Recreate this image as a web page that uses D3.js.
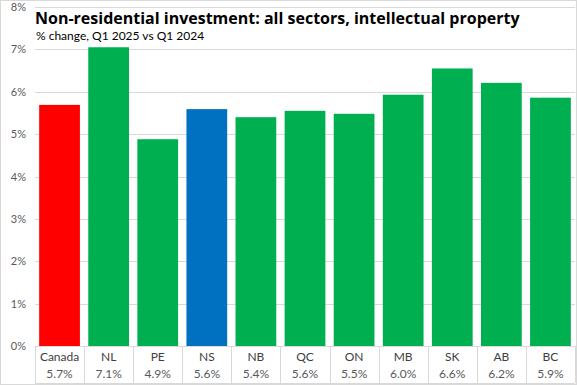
<!DOCTYPE html>
<html>
<head>
<meta charset="utf-8">
<script src="https://cdn.jsdelivr.net/npm/d3@7"></script>
<style>
  body { margin: 0; background: #fff; }
  svg { display: block; font-family: Lato, "Liberation Sans", sans-serif; }
</style>
</head>
<body>
<div id="chart"></div>
<script>
// chart data
const regions = ["Canada", "NL", "PE", "NS", "NB", "QC", "ON", "MB", "SK", "AB", "BC"];
const values = [5.69, 7.05, 4.88, 5.59, 5.40, 5.55, 5.48, 5.93, 6.55, 6.21, 5.86];
const valueLabels = ["5.7%", "7.1%", "4.9%", "5.6%", "5.4%", "5.6%", "5.5%", "6.0%", "6.6%", "6.2%", "5.9%"];
const yTicks = [0, 1, 2, 3, 4, 5, 6, 7, 8];
const barColors = { Canada: "#ff0000", NS: "#0070c0" };

const width = 577, height = 385;
const margin = { top: 7, left: 35, right: 2, bottom: 39 };
const innerWidth = width - margin.left - margin.right;
const innerHeight = height - margin.top - margin.bottom;

const svg = d3.select("#chart")
  .append("svg")
  .attr("width", width)
  .attr("height", height);

// outer border
svg.append("rect")
  .attr("x", 0.5).attr("y", 0.5)
  .attr("width", width - 1).attr("height", height - 1)
  .attr("fill", "none")
  .attr("stroke", "#d9d9d9");

const g = svg.append("g")
  .attr("transform", `translate(${margin.left},${margin.top})`);

const x = d3.scaleBand()
  .domain(regions)
  .range([0, innerWidth])
  .paddingInner(0.17)
  .paddingOuter(0.085);

const xCat = d3.scaleBand()
  .domain(regions)
  .range([0, innerWidth]);

const y = d3.scaleLinear()
  .domain([0, 8])
  .range([innerHeight, 0]);

// gridlines
g.selectAll(".grid")
  .data(yTicks)
  .enter()
  .append("line")
  .attr("x1", 0).attr("x2", innerWidth)
  .attr("y1", d => Math.round(y(d)) + 0.5)
  .attr("y2", d => Math.round(y(d)) + 0.5)
  .attr("stroke", "#d9d9d9");

// y tick labels
g.selectAll(".ytick")
  .data(yTicks)
  .enter()
  .append("text")
  .attr("x", -9)
  .attr("y", d => y(d) + 4)
  .attr("text-anchor", "end")
  .attr("font-size", 11)
  .attr("fill", "#595959")
  .text(d => d + "%");

// bars
g.selectAll(".bar")
  .data(regions)
  .enter()
  .append("rect")
  .attr("x", d => x(d))
  .attr("width", x.bandwidth())
  .attr("y", (d, i) => y(values[i]))
  .attr("height", (d, i) => innerHeight - y(values[i]))
  .attr("fill", d => barColors[d] || "#00b050");

// data table under axis
const tableTop = innerHeight;
const tableBottom = height - margin.top - 2;

g.selectAll(".sep")
  .data(regions.concat(["end"]))
  .enter()
  .append("line")
  .attr("x1", (d, i) => Math.round(i * xCat.bandwidth()) + 0.5)
  .attr("x2", (d, i) => Math.round(i * xCat.bandwidth()) + 0.5)
  .attr("y1", tableTop)
  .attr("y2", tableBottom)
  .attr("stroke", "#d9d9d9");

g.append("line")
  .attr("x1", 0).attr("x2", innerWidth)
  .attr("y1", tableBottom + 0.5).attr("y2", tableBottom + 0.5)
  .attr("stroke", "#d9d9d9");

g.selectAll(".cat")
  .data(regions)
  .enter()
  .append("text")
  .attr("x", d => xCat(d) + xCat.bandwidth() / 2)
  .attr("y", tableTop + 15)
  .attr("text-anchor", "middle")
  .attr("font-size", 12)
  .attr("fill", "#404040")
  .text(d => d);

g.selectAll(".val")
  .data(valueLabels)
  .enter()
  .append("text")
  .attr("x", (d, i) => xCat(regions[i]) + xCat.bandwidth() / 2)
  .attr("y", tableTop + 32)
  .attr("text-anchor", "middle")
  .attr("font-size", 12)
  .attr("fill", "#595959")
  .text(d => d);

// title + subtitle
svg.append("text")
  .attr("x", 35).attr("y", 24)
  .attr("font-family", "'Open Sans', sans-serif")
  .attr("font-size", 16)
  .attr("font-weight", "bold")
  .attr("fill", "#000")
  .text("Non-residential investment: all sectors, intellectual property");

svg.append("text")
  .attr("x", 36).attr("y", 40)
  .attr("font-size", 12)
  .attr("fill", "#000")
  .text("% change, Q1 2025 vs Q1 2024");
</script>
</body>
</html>
